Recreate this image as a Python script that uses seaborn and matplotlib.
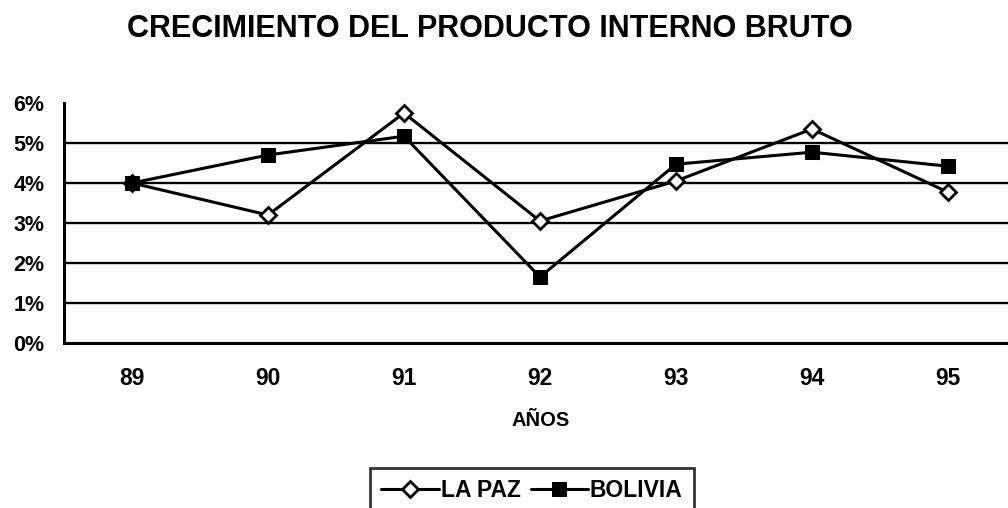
import matplotlib
matplotlib.use("Agg")
import matplotlib.pyplot as plt
import seaborn as sns
import pandas as pd
from matplotlib.ticker import FuncFormatter

years = ["89", "90", "91", "92", "93", "94", "95"]
la_paz = [0.040, 0.032, 0.0575, 0.0305, 0.0405, 0.0535, 0.0377]
bolivia = [0.040, 0.047, 0.0517, 0.0165, 0.0447, 0.0477, 0.0442]

sns.set_theme(style="white")
plt.rcParams['font.family'] = ['Liberation Sans', 'DejaVu Sans']
plt.rcParams['font.weight'] = 'bold'
plt.rcParams['text.color'] = 'black'
plt.rcParams['axes.labelcolor'] = 'black'
plt.rcParams['xtick.color'] = 'black'
plt.rcParams['ytick.color'] = 'black'

fig = plt.figure(figsize=(10.08, 5.08), dpi=100)
ax = fig.add_axes([64/1008, 1-343/508, (1016-64)/1008, (343-103)/508])

pos = list(range(len(years)))
df = pd.DataFrame({"x": pos * 2,
                   "v": la_paz + bolivia,
                   "s": ["LA PAZ"] * len(years) + ["BOLIVIA"] * len(years)})

sns.lineplot(data=df[df.s == "LA PAZ"], x="x", y="v", ax=ax, color="black",
             lw=2.2, marker="D", markersize=8, markerfacecolor="white",
             markeredgecolor="black", markeredgewidth=2, label="LA PAZ")
sns.lineplot(data=df[df.s == "BOLIVIA"], x="x", y="v", ax=ax, color="black",
             lw=2.2, marker="s", markersize=10.5, markerfacecolor="black",
             markeredgecolor="black", label="BOLIVIA")

ax.set_xlim(-0.5, 6.5)
ax.set_ylim(0, 0.06)
ax.set_yticks([i/100 for i in range(7)])
ax.yaxis.set_major_formatter(FuncFormatter(lambda v, p: f"{v*100:.0f}%"))
for yv in [i/100 for i in range(1, 6)]:
    ax.axhline(yv, color="black", lw=1.7, zorder=0)

ax.set_xticks(pos)
ax.set_xticklabels(years)
ax.set_xticks([p + 0.5 for p in range(-1, 7)], minor=True)
ax.tick_params(axis="x", which="major", direction="in", length=4, width=1.5,
               color="black", labelsize=16.5, pad=17)
ax.tick_params(axis="x", which="minor", direction="out", length=5, width=1.5,
               color="black")
ax.tick_params(axis="y", which="major", direction="out", length=6, width=1.5,
               color="black", labelsize=15.5, pad=8)
for lab in ax.get_xticklabels() + ax.get_yticklabels():
    lab.set_fontweight("bold")

for s in ["top", "right"]:
    ax.spines[s].set_visible(False)
for s in ["left", "bottom"]:
    ax.spines[s].set_color("black")
    ax.spines[s].set_linewidth(2.2)

ax.set_ylabel("")
ax.set_xlabel("")
fig.text(541/1008, 1-420/508, "AÑOS", ha="center", va="center",
         fontsize=14.5, fontweight="bold")

fig.text(490/1008, 1-29/508, "CRECIMIENTO DEL PRODUCTO INTERNO BRUTO",
         ha="center", va="center", fontsize=22, fontweight="bold")

leg = ax.legend(loc="upper left", bbox_to_anchor=(370/1008, 1-468/508),
                bbox_transform=fig.transFigure, ncol=2, frameon=True,
                fancybox=False, edgecolor="black", handlelength=2.5,
                handletextpad=0.08, columnspacing=0.45, borderpad=0.5,
                borderaxespad=0, prop={"weight": "bold", "size": 16.5})
leg.get_frame().set_linewidth(2)

fig.savefig("out.png", dpi=100)
